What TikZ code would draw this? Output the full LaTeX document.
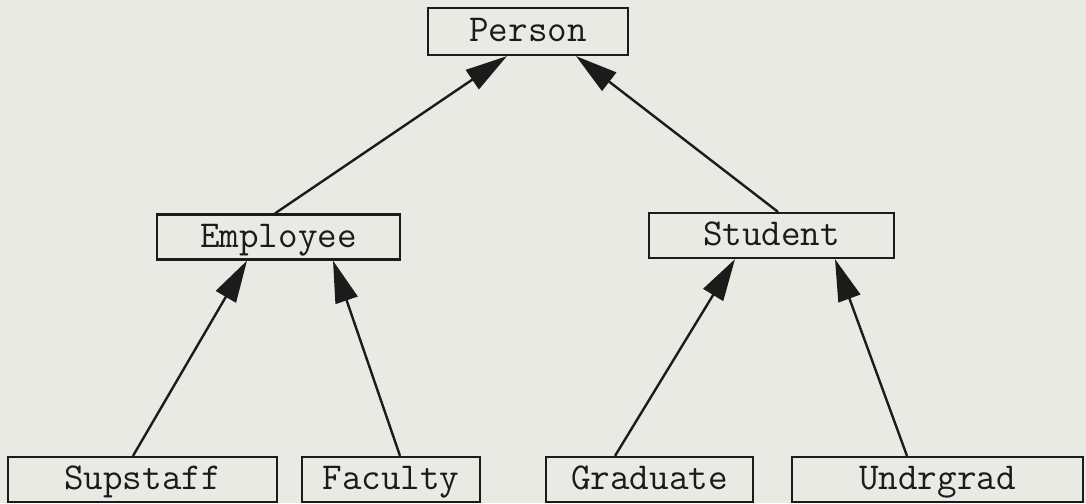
\documentclass[tikz,border=0pt]{standalone}
\usepackage{tikz}
\usetikzlibrary{arrows.meta}
\definecolor{paper}{HTML}{E9EAE4}
\definecolor{ink}{HTML}{1C1A1A}

\begin{document}
\begin{tikzpicture}[x=0.5pt, y=-0.5pt,
  cls/.style={draw=ink, line width=1.1pt, text=ink, minimum height=22.5pt,
    inner sep=0pt, text height=13pt, text depth=3pt,
    font=\ttfamily\fontsize{19}{22}\selectfont},
  isa/.style={draw=ink, line width=1.2pt, -{Triangle[length=21pt,width=11.5pt]}}]
  \fill[paper] (0,0) rectangle (1086,503);
  \useasboundingbox (0,0) rectangle (1086,503);

  \node[cls, minimum width=100pt, minimum height=23.5pt] (person) at (528,31.5) {Person};

  \node[cls, minimum width=121.5pt] (employee) at (278.5,237) {Employee};
  \node[cls, minimum width=122.5pt] (student) at (771.5,235.5) {Student};

  \node[cls, minimum width=134.5pt] (supstaff) at (142.5,479.5) {Supstaff};
  \node[cls, minimum width=89pt] (faculty) at (391,479.5) {Faculty};
  \node[cls, minimum width=103.5pt] (graduate) at (649.5,479.5) {Graduate};
  \node[cls, minimum width=145.5pt] (undrgrad) at (937.5,479.5) {Undrgrad};

  \draw[isa] ([xshift=-1.75pt]employee.north) -- ([xshift=-10.5pt]person.south);
  \draw[isa] ([xshift=3.25pt]student.north) -- ([xshift=24pt]person.south);

  \draw[isa] ([xshift=-4.75pt]supstaff.north) -- ([xshift=-15.75pt]employee.south);
  \draw[isa] ([xshift=4.5pt]faculty.north) -- ([xshift=27.25pt]employee.south);
  \draw[isa] ([xshift=-17.25pt]graduate.north) -- ([xshift=-18.25pt]student.south);
  \draw[isa] ([xshift=-15.25pt]undrgrad.north) -- ([xshift=31.75pt]student.south);
\end{tikzpicture}
\end{document}
